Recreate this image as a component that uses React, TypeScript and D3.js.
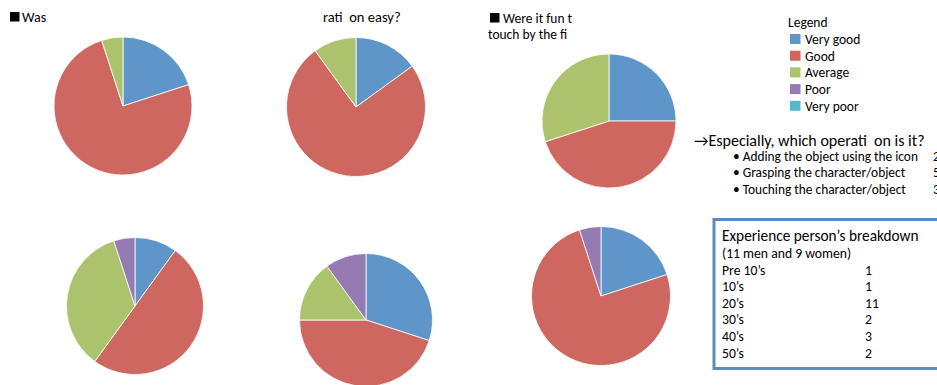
import React from "react";
import * as d3 from "d3";

const categories = ["Very good", "Good", "Average", "Poor", "Very poor"];
const colors = ["#5F96C9", "#CD675F", "#ACC36E", "#957BB1", "#56B7CF"];

const wasOperationEasy = [4, 15, 1, 0, 0];
const operationEasy = [3, 15, 2, 0, 0];
const funToTouch = [5, 9, 6, 0, 0];
const bottomLeft = [2, 10, 7, 1, 0];
const bottomMiddle = [6, 9, 3, 2, 0];
const bottomRight = [4, 15, 0, 1, 0];

const operations = [
  "Adding the object using the icon",
  "Grasping the character/object",
  "Touching the character/object",
];
const operationCounts = ["2", "5", "3"];

const ageGroups = ["Pre 10\u2019s", "10\u2019s", "20\u2019s", "30\u2019s", "40\u2019s", "50\u2019s"];
const ageCounts = [1, 1, 11, 2, 3, 2];

const pies = [
  { data: wasOperationEasy, cx: 123, cy: 106, r: 69 },
  { data: operationEasy, cx: 356, cy: 107, r: 69.5 },
  { data: funToTouch, cx: 609, cy: 121, r: 67 },
  { data: bottomLeft, cx: 135, cy: 306, r: 68.5 },
  { data: bottomMiddle, cx: 366, cy: 320, r: 66.5 },
  { data: bottomRight, cx: 601, cy: 296, r: 69.5 },
];

const FONT = "Carlito, Calibri, Lato, 'Liberation Sans', sans-serif";

export default function App() {
  const pieGen = d3.pie<number>().sort(null).value((d) => d);
  return (
    <svg
      width={937}
      height={385}
      style={{ position: "absolute", left: 0, top: 0, display: "block", background: "#fff" }}
      fontFamily={FONT}
    >
      {pies.map((p, i) => {
        const arc = d3.arc<d3.PieArcDatum<number>>().innerRadius(0).outerRadius(p.r);
        return (
          <g key={i} transform={`translate(${p.cx},${p.cy})`}>
            {pieGen(p.data).map((a, j) =>
              a.value > 0 ? (
                <path key={j} d={arc(a) || ""} fill={colors[j]} stroke="#fff" strokeWidth={0.8} />
              ) : null
            )}
          </g>
        );
      })}

      {/* titles (partially hidden in original) */}
      <rect x={10} y={12} width={9.5} height={9.5} fill="#000" />
      <text x={22} y={22} fontSize={14}>Was</text>
      <text x={323} y={22} fontSize={14.5} style={{ whiteSpace: "pre" }}>{"rati  on easy?"}</text>

      <rect x={490} y={13} width={9.5} height={9.5} fill="#000" />
      <text x={503} y={23} fontSize={13.5}>Were it fun t</text>
      <text x={488} y={39} fontSize={13.5}>touch by the fi</text>

      {/* legend */}
      <text x={788} y={27} fontSize={13.5}>Legend</text>
      {categories.map((c, i) => (
        <g key={c} transform={`translate(790,${34 + i * 16.7})`}>
          <rect x={0} y={0} width={10.5} height={10} fill={colors[i]} />
          <text x={15} y={10} fontSize={13.5}>{c}</text>
        </g>
      ))}

      {/* operations */}
      <text x={694} y={146} fontSize={16} style={{ whiteSpace: "pre" }}>
        {"\u2192Especially, which operati  on is it?"}
      </text>
      {operations.map((o, i) => (
        <g key={o}>
          <text x={733} y={161 + i * 16.3} fontSize={13.4}>{"\u2022 " + o}</text>
          <text x={933} y={161 + i * 16.3} fontSize={13.4}>{operationCounts[i]}</text>
        </g>
      ))}

      {/* breakdown box */}
      <rect x={714} y={219.5} width={240} height={149} fill="#fff" stroke="#5A8AC6" strokeWidth={3} />
      <text x={722} y={241} fontSize={15.3}>Experience person{"\u2019"}s breakdown</text>
      <text x={722} y={258} fontSize={13.7}>(11 men and 9 women)</text>
      {ageGroups.map((g, i) => (
        <g key={g}>
          <text x={722} y={274.5 + i * 16.6} fontSize={13.7}>{g}</text>
          <text x={865} y={274.5 + i * 16.6} fontSize={13.7}>{ageCounts[i]}</text>
        </g>
      ))}
    </svg>
  );
}
